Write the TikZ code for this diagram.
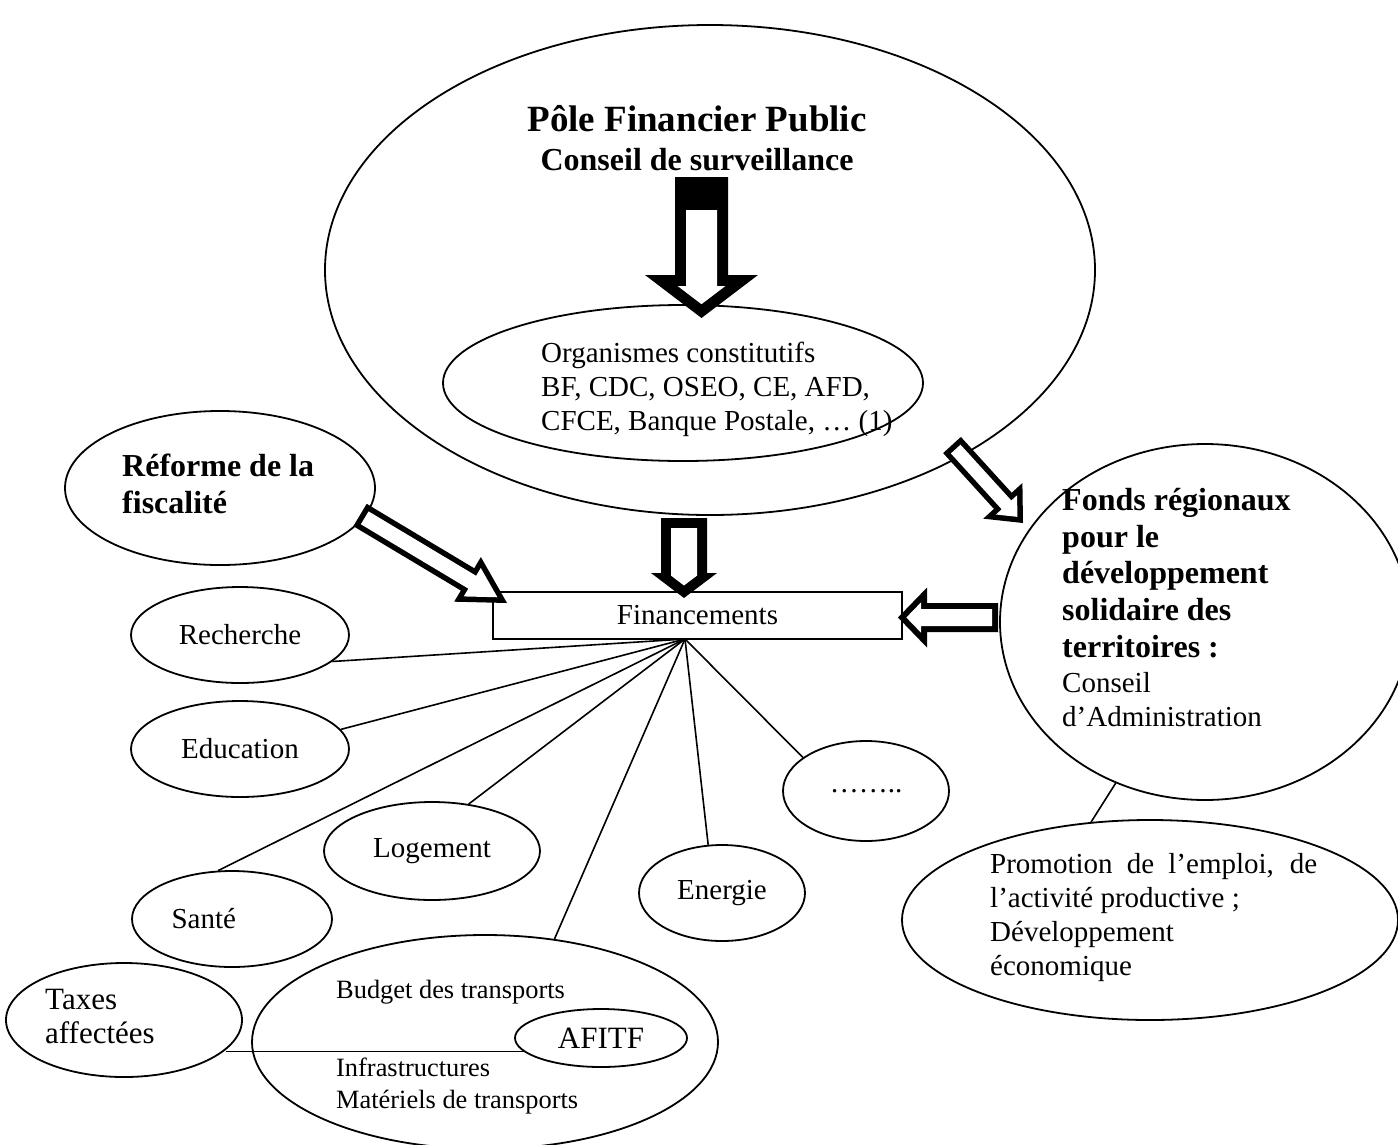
\documentclass[tikz,border=0pt]{standalone}
\usepackage{fontspec}
\setmainfont{Liberation Serif}
\usetikzlibrary{calc, shapes.geometric}

% hollow block arrow: tail, tip, shaft width, head width, head length, border
\newcommand{\fatarrow}[6]{%
  \pgfmathsetmacro\faS{#3/2}%
  \pgfmathsetmacro\faH{#4/2}%
  \pgfmathsetmacro\faT{#6/sin(atan(\faH/#5))}%
  \pgfmathsetmacro\faI{\faS-#6}%
  \pgfmathsetmacro\faL{max(#5-#6-\faT, \faI*#5/\faH)}%
  \pgfmathsetmacro\faJ{\faL*\faH/#5}%
  \coordinate (fa-b) at ($(#2)!#5pt!(#1)$);
  \coordinate (fa-t) at ($(#2)!\faT pt!(#1)$);
  \coordinate (fa-a) at ($(#1)!#6pt!(#2)$);
  \coordinate (fa-c) at ($(fa-t)!\faL pt!(#1)$);
  \fill ($(#1)!\faS pt!90:(#2)$) -- ($(fa-b)!\faS pt!90:(#2)$) -- ($(fa-b)!\faH pt!90:(#2)$) -- (#2)
     -- ($(fa-b)!\faH pt!-90:(#2)$) -- ($(fa-b)!\faS pt!-90:(#2)$) -- ($(#1)!\faS pt!-90:(#2)$) -- cycle;
  \fill[white] ($(fa-a)!\faI pt!90:(#2)$) -- ($(fa-c)!\faI pt!90:(#2)$) -- ($(fa-c)!\faJ pt!90:(#2)$) -- (fa-t)
     -- ($(fa-c)!\faJ pt!-90:(#2)$) -- ($(fa-c)!\faI pt!-90:(#2)$) -- ($(fa-a)!\faI pt!-90:(#2)$) -- cycle;
}

\begin{document}
\begin{tikzpicture}[x=1pt, y=-1pt,
    bulle/.style={draw, ellipse, line width=1.8pt, inner sep=0pt},
    lien/.style={line width=1.6pt},
    txt/.style={inner sep=0pt, align=left, anchor=north west},
    normal/.style={font=\fontsize{29}{34}\selectfont},
    gras/.style={font=\fontsize{32}{36.7}\selectfont\bfseries},
    petit/.style={font=\fontsize{26.4}{32}\selectfont}]
  \useasboundingbox (0,0) rectangle (1398,1144);
  \clip (0,0) rectangle (1398,1144);

  % bulles
  \node[bulle, minimum width=770pt, minimum height=490pt] (pole) at (710,270) {};
  \node[bulle, minimum width=480pt, minimum height=156pt] (orga) at (683,383) {};
  \node[bulle, minimum width=310pt, minimum height=154pt] (refo) at (220,488) {};
  \node[bulle, minimum width=410pt, minimum height=356pt] (fonds) at (1205,622) {};
  \node[bulle, minimum width=496pt, minimum height=200pt] (promo) at (1150,920) {};
  \node[draw, line width=1.3pt, inner sep=0pt, minimum width=409pt, minimum height=47pt, normal] (fin) at (697.5,615.5) {Financements};
  \node[bulle, normal, minimum width=218pt, minimum height=96pt] (rech) at (240,635) {Recherche};
  \node[bulle, normal, minimum width=218pt, minimum height=96pt] (educ) at (240,749) {Education};
  \node[bulle, normal, minimum width=216pt, minimum height=98pt] (loge) at (432,851) {Logement};
  \node[bulle, minimum width=200pt, minimum height=96pt] (sante) at (232,919) {};
  \node[bulle, normal, minimum width=166pt, minimum height=96pt] (ener) at (722,893) {Energie};
  \node[bulle, normal, minimum width=166pt, minimum height=100pt] (dots) at (866,791) {……..};
  \node[bulle, minimum width=466pt, minimum height=214pt] (budg) at (485,1042) {};
  \node[bulle, font=\fontsize{31}{34}\selectfont, minimum width=172pt, minimum height=58pt] (afitf) at (601,1038) {AFITF};
  \node[bulle, minimum width=236pt, minimum height=114pt] (taxe) at (124,1020) {};

  % liens
  \coordinate (hub) at (685,639);
  \path[lien]
    (hub) edge (rech.-16)
          edge (educ.11)
          edge (sante.106)
          edge (loge.52)
          edge (budg.56)
          edge (ener.106)
          edge (dots.152);
  \draw[lien] (taxe.-16 |- afitf.190) -- (afitf.190);
  \draw[lien] (fonds.241) -- (promo.121);

  % fleches
  \coordinate (a1q) at (701.5,177);  \coordinate (a1p) at (701.5,318);
  \coordinate (a2q) at (684,518);    \coordinate (a2p) at (684,598);
  \coordinate (a3q) at (360,515);    \coordinate (a3p) at (507,603);
  \coordinate (a4q) at (952,445);    \coordinate (a4p) at (1023,523);
  \coordinate (a5q) at (998,617.5);  \coordinate (a5p) at (898,617.5);
  \fatarrow{a1q}{a1p}{53}{113}{43}{11}
  \fill (675,177) rectangle (728,210);
  \fatarrow{a2q}{a2p}{46}{66}{25}{10}
  \fatarrow{a3q}{a3p}{26}{52}{46}{5.5}
  \fatarrow{a4q}{a4p}{24}{53}{30}{5.5}
  \fatarrow{a5q}{a5p}{29}{60}{29}{6}

  % textes
  \node[anchor=base, font=\fontsize{37}{42}\selectfont\bfseries] (titre) at (697,131) {Pôle Financier Public};
  \node[anchor=base, gras] (cs) at (697,170) {Conseil de surveillance};
  \node[txt, normal] (orga-t) at (541,342) {Organismes constitutifs\\BF, CDC, OSEO, CE, AFD,\\CFCE, Banque Postale, … (1)};
  \node[txt, gras] (refo-t) at (122,454) {Réforme de la\\fiscalité};
  \node[txt, gras] (fonds-t) at (1062,488) {Fonds régionaux\\pour le\\développement\\solidaire des\\territoires :};
  \node[txt, normal] (fonds-ca) at (1062,672) {Conseil\\d’Administration};
  \node[txt, normal] (promo-t) at (990,853) {\makebox[327pt][s]{Promotion de l’emploi, de}\\l’activité productive ;\\Développement\\économique};
  \node[txt, petit] (budg-t) at (336,980) {Budget des transports};
  \node[txt, petit] (budg-i) at (336,1058) {Infrastructures\\Matériels de transports};
  \node[txt, font=\fontsize{31}{34}\selectfont] (taxe-t) at (45,989) {Taxes\\affectées};
  \node[anchor=base west, normal] (sante-t) at (168,928) {Santé};
\end{tikzpicture}
\end{document}
